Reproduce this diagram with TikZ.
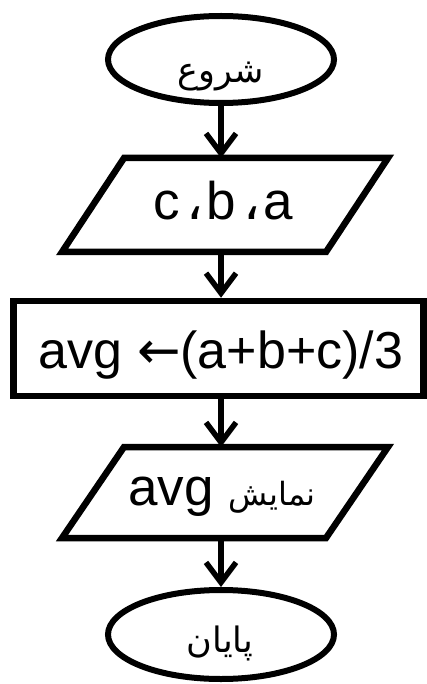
\documentclass[tikz,border=0pt]{standalone}
\usepackage{fontspec}
\setmainfont{Liberation Sans}
\newfontfamily\arabicfont[Script=Arabic]{DejaVu Sans}
\newfontfamily\symfont{DejaVu Sans}
\TeXXeTstate=1
\usetikzlibrary{shapes.geometric,arrows.meta}
\tikzset{
  term/.style={draw, ellipse, line width=6pt, minimum width=226pt, minimum height=87pt, inner sep=0pt},
  para/.style={draw, line width=6.5pt, line join=miter},
  procbox/.style={draw, line width=6.5pt, minimum width=410pt, minimum height=95pt, inner sep=0pt},
  flow/.style={line width=5.5pt, -{Straight Barb[length=20pt,width=30pt]}},
  big/.style={font=\fontsize{53}{60}\selectfont, inner sep=0pt},
  bigbox/.style={font=\fontsize{52}{60}\selectfont, inner sep=0pt},
  arab/.style={font=\fontsize{35}{42}\arabicfont, inner sep=0pt},
}
\begin{document}
\begin{tikzpicture}[x=1pt,y=-1pt]
\useasboundingbox (0,0) rectangle (427,684);

% start
\node[term] (start) at (221,59.5) {};
\node[arab, anchor=base] (starttxt) at (221,83) {\beginR شروع\endR};

% input parallelogram
\coordinate (p1tl) at (124,158);
\coordinate (p1tr) at (388,158);
\coordinate (p1br) at (326,252);
\coordinate (p1bl) at (62,252);
\coordinate (p1top) at (221,158);
\coordinate (p1bot) at (221,252);
\draw[para] (p1tl) -- (p1tr) -- (p1br) -- (p1bl) -- cycle;
\node[big, anchor=base] (inp) at (223,220) {c\hspace{7pt}{\arabicfont ،}\hspace{3pt}b\hspace{7pt}{\arabicfont ،}\hspace{3pt}a};

% process box
\node[procbox] (calc) at (218.5,348.5) {};
\node[bigbox, anchor=base] (calctxt) at (221,368) {avg {\symfont ←}(a+b+c)/3};

% output parallelogram
\coordinate (p2tl) at (124,447);
\coordinate (p2tr) at (388,447);
\coordinate (p2br) at (326,538);
\coordinate (p2bl) at (62,538);
\coordinate (p2top) at (221,447);
\coordinate (p2bot) at (221,538);
\draw[para] (p2tl) -- (p2tr) -- (p2br) -- (p2bl) -- cycle;
\node[big, anchor=base] (outtxt) at (222,505) {avg {\fontsize{32}{40}\arabicfont\beginR نمایش\endR}};

% end
\node[term, minimum height=89pt] (stop) at (221,634.5) {};
\node[arab, anchor=base] (stoptxt) at (220,652) {\beginR پایان\endR};

% connectors
\draw[flow] (start.south) -- (p1top);
\draw[flow] (p1bot) -- (start.south |- calc.north);
\draw[flow] (start.south |- calc.south) -- (p2top);
\draw[flow] (p2bot) -- (stop.north);
\end{tikzpicture}
\end{document}
